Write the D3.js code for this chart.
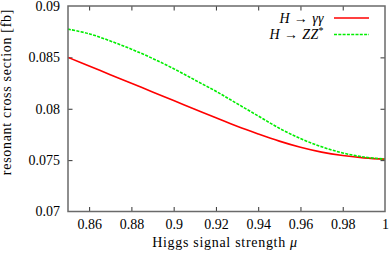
<!DOCTYPE html>
<html><head><meta charset="utf-8">
<script src="https://cdn.jsdelivr.net/npm/d3@7"></script>
<style>body{margin:0;background:#fff}svg{display:block}text{font-family:"Liberation Serif","DejaVu Serif",serif;fill:#000}</style>
</head><body><svg id="c" width="390" height="253"></svg>
<script>
const mu = [0.85,0.86,0.87,0.88,0.89,0.90,0.91,0.92,0.93,0.94,0.95,0.96,0.97,0.98,0.99,1.00];
const gammaGamma = [0.0850,0.08416,0.08332,0.08248,0.08164,0.0808,0.07996,0.07912,0.0783,0.07755,0.07685,0.07625,0.07578,0.07545,0.07522,0.0751];
const zzStar = [0.08775,0.0873,0.0866,0.0858,0.0849,0.0839,0.0828,0.0817,0.0805,0.0793,0.0781,0.0771,0.0763,0.0757,0.0753,0.0751];
const xTicks = [0.86,0.88,0.90,0.92,0.94,0.96,0.98,1.00];
const xTickLabels = ["0.86","0.88","0.9","0.92","0.94","0.96","0.98","1"];
const yTicks = [0.07,0.075,0.08,0.085,0.09];
const yTickLabels = ["0.07","0.075","0.08","0.085","0.09"];

const svg = d3.select("#c");
const L=68, R=385, T=6, B=211.5;
const x = d3.scaleLinear().domain([0.85,1]).range([L,R]);
const y = d3.scaleLinear().domain([0.07,0.09]).range([B,T]);
const fs = 14;

const tl = 4.5;
const axB = d3.axisBottom(x).tickValues(xTicks).tickSize(-tl).tickFormat((d,i)=>xTickLabels[i]).tickPadding(8);
const gB = svg.append("g").attr("transform",`translate(0,${B})`).call(axB);
const axT = d3.axisTop(x).tickValues(xTicks).tickSize(-tl).tickFormat("");
const gT = svg.append("g").attr("transform",`translate(0,${T})`).call(axT);
const axL = d3.axisLeft(y).tickValues(yTicks).tickSize(-tl).tickFormat((d,i)=>yTickLabels[i]).tickPadding(8);
const gL = svg.append("g").attr("transform",`translate(${L},0)`).call(axL);
const axR = d3.axisRight(y).tickValues(yTicks).tickSize(-tl).tickFormat("");
const gR = svg.append("g").attr("transform",`translate(${R},0)`).call(axR);
[gB,gT,gL,gR].forEach(g=>{
  g.attr("font-family",null).attr("font-size",null);
  g.select(".domain").remove();
  g.selectAll(".tick line").attr("stroke","#333").attr("stroke-width",1);
  g.selectAll(".tick text").attr("font-size",fs).attr("fill","#000");
});
gL.selectAll(".tick").filter(d=>d===0.07||d===0.09).select("line").remove();
gR.selectAll(".tick").filter(d=>d===0.07||d===0.09).select("line").remove();
gB.selectAll(".tick").filter(d=>d===1).select("line").remove();
gT.selectAll(".tick").filter(d=>d===1).select("line").remove();

const line = (vals)=>d3.line().x((d,i)=>x(mu[i])).y(d=>y(d)).curve(d3.curveCatmullRom)(vals);
svg.append("path").attr("d",line(gammaGamma)).attr("fill","none").attr("stroke","#ff0000").attr("stroke-width",1.6);
svg.append("path").attr("d",line(zzStar)).attr("fill","none").attr("stroke","#00ee00").attr("stroke-width",1.6).attr("stroke-dasharray","3,1.3");

svg.append("rect").attr("x",L).attr("y",T).attr("width",R-L).attr("height",B-T)
  .attr("fill","none").attr("stroke","#6a6a6a").attr("stroke-width",1.5);

const lg = svg.append("g");
const legendRows = [
  {sub:"γγ", sup:"", color:"#ff0000", dash:null},
  {sub:"ZZ", sup:"*", color:"#00ee00", dash:"3,1.3"}
];
legendRows.forEach((r,i)=>{
  const yy = 18 + i*16.5;
  const t = lg.append("text").attr("x",324).attr("y",yy+4.5).attr("text-anchor","end").attr("font-size",fs).attr("letter-spacing",0.4);
  t.append("tspan").attr("font-style","italic").text("H");
  t.append("tspan").text(" → ");
  t.append("tspan").attr("font-style","italic").text(r.sub);
  if(r.sup) t.append("tspan").attr("font-size",10).attr("dy",-5).text(r.sup);
  lg.append("line").attr("x1",334).attr("x2",369).attr("y1",yy).attr("y2",yy)
    .attr("stroke",r.color).attr("stroke-width",1.6).attr("stroke-dasharray",r.dash);
});

const xt = svg.append("text").attr("x",225).attr("y",247).attr("text-anchor","middle").attr("font-size",fs).attr("letter-spacing",0.7);
xt.append("tspan").text("Higgs signal strength ");
xt.append("tspan").attr("font-style","italic").text("μ");
svg.append("text").attr("transform","translate(11,92) rotate(-90)").attr("text-anchor","middle").attr("font-size",fs).attr("letter-spacing",0.7)
  .text("resonant cross section [fb]");
</script></body></html>
